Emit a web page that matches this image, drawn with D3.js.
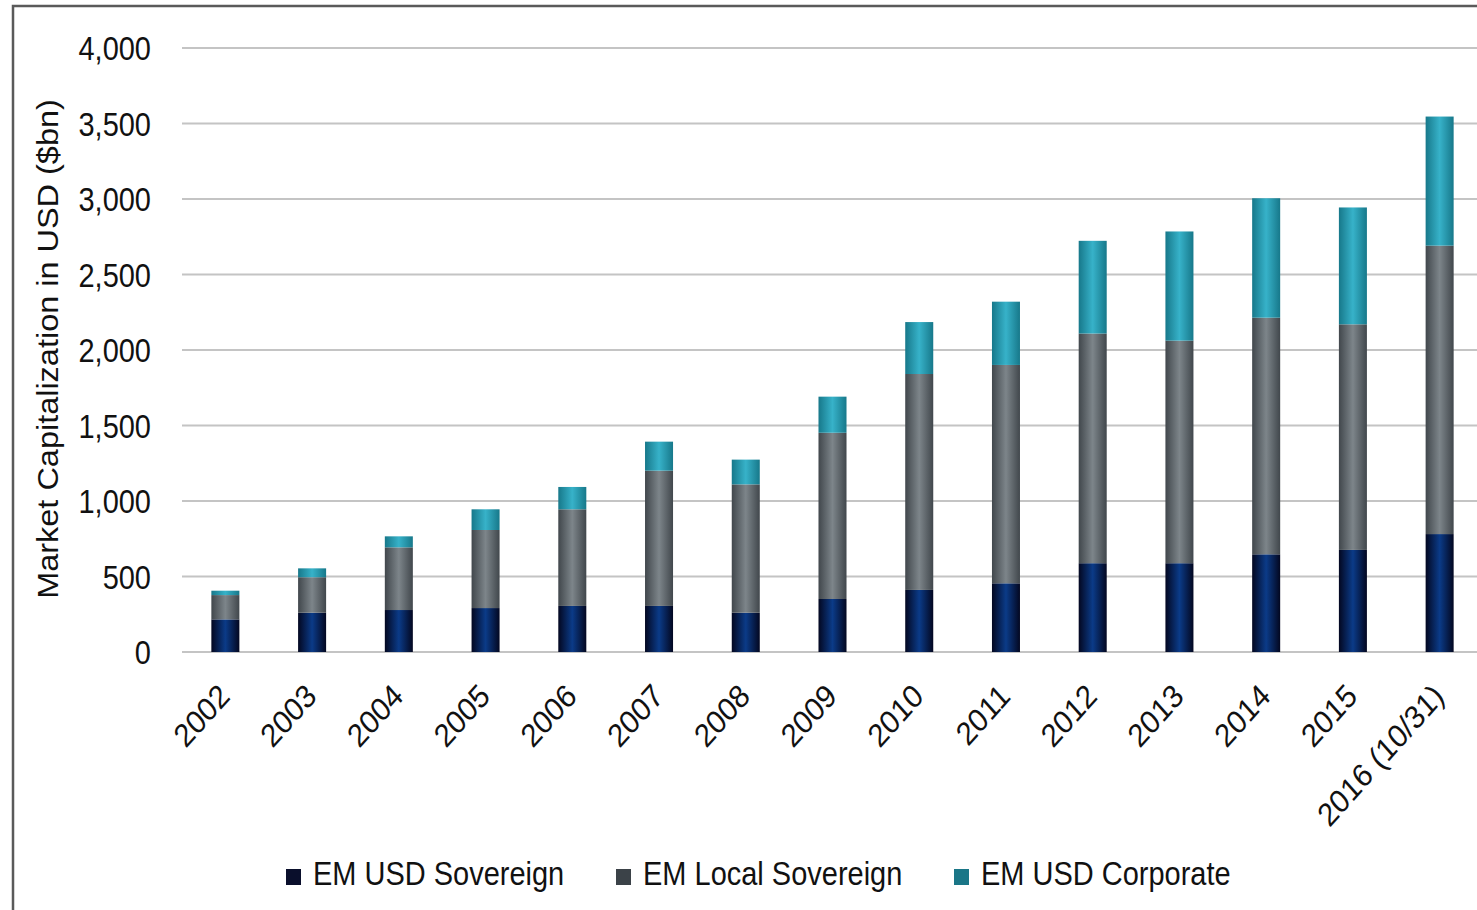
<!DOCTYPE html>
<html>
<head>
<meta charset="utf-8">
<script src="https://cdn.jsdelivr.net/npm/d3@7"></script>
<style>
  body { margin: 0; background: #fff; }
  text { font-family: "Liberation Sans", Arial, sans-serif; fill: #111; }
  .grid line { stroke: #c4c4c4; stroke-width: 2px; }
</style>
</head>
<body>
<svg id="chart" width="1477" height="910"></svg>
<script>
// values, $bn
const years = ["2002", "2003", "2004", "2005", "2006", "2007", "2008", "2009",
               "2010", "2011", "2012", "2013", "2014", "2015", "2016 (10/31)"];
const usdSovereign   = [216, 260, 278, 291, 305, 305, 260, 351, 411, 455, 588, 588, 647, 676, 781];
const localSovereign = [161, 235, 415, 517, 640, 896, 850, 1101, 1430, 1446, 1521, 1474, 1567, 1494, 1910];
const usdCorporate   = [29, 59, 73, 137, 148, 192, 164, 239, 344, 419, 614, 723, 791, 774, 855];
const seriesNames = ["EM USD Sovereign", "EM Local Sovereign", "EM USD Corporate"];
const yTicks = [0, 500, 1000, 1500, 2000, 2500, 3000, 3500, 4000];

const svg = d3.select("#chart");
const stretch = "scale(1,1.12)";

const rows = years.map((y, i) => ({
    year: y, usd: usdSovereign[i], local: localSovereign[i], corp: usdCorporate[i]
}));
const stack = d3.stack().keys(["usd", "local", "corp"])(rows);

const x = d3.scaleBand().domain(years).range([182, 1483]).paddingInner(0.677).paddingOuter(0.3385);
const y = d3.scaleLinear().domain([0, 4000]).range([652, 48]);

// cylinder-like shading, as in the picture
const shades = [
    ["#030720", "#0b3b88", "#030720"],
    ["#41474c", "#7d858a", "#41474c"],
    ["#17788a", "#37b2c9", "#17788a"]
];
const defs = svg.append("defs");
shades.forEach((s, i) => {
    let gr = defs.append("linearGradient").attr("id", "g" + i)
        .attr("x1", "0%").attr("x2", "100%").attr("y1", "0%").attr("y2", "0%");
    gr.append("stop").attr("offset", "0%").attr("stop-color", s[0]);
    gr.append("stop").attr("offset", "50%").attr("stop-color", s[1]);
    gr.append("stop").attr("offset", "100%").attr("stop-color", s[2]);
});
const legendColors = ["#0a0f2c", "#3b4248", "#1a7687"];

// frame
svg.append("path").attr("d", "M13,910V6H1477").attr("fill", "none")
    .attr("stroke", "#5a5a5a").attr("stroke-width", 2.5);

// grid
svg.append("g").attr("class", "grid").selectAll("line").data(yTicks).join("line")
    .attr("x1", 182).attr("x2", 1477)
    .attr("y1", d => y(d)).attr("y2", d => y(d));

// y axis labels
const yAxis = d3.axisLeft(y).tickValues(yTicks).tickSize(0).tickPadding(0)
    .tickFormat(d3.format(","));
const ya = svg.append("g").attr("transform", "translate(151,0)").call(yAxis);
ya.select(".domain").remove();
ya.selectAll("text").attr("font-size", 29).attr("dy", "0.36em")
    .attr("transform", stretch).attr("fill", "#111")
    .style("font-family", "'Liberation Sans', Arial, sans-serif");

svg.append("text").attr("transform", "translate(58,349) " + stretch + " rotate(-90)")
    .attr("text-anchor", "middle").attr("font-size", 29)
    .text("Market Capitalization in USD ($bn)");

// bars
svg.append("g").selectAll("g").data(stack).join("g")
    .attr("fill", (d, i) => "url(#g" + i + ")")
    .selectAll("rect").data(d => d).join("rect")
    .attr("x", d => x(d.data.year))
    .attr("width", x.bandwidth())
    .attr("y", d => y(d[1]))
    .attr("height", d => y(d[0]) - y(d[1]));

// x labels
svg.append("g").selectAll("text").data(years).join("text")
    .attr("transform", d => "translate(" + (x(d) + x.bandwidth() / 2 + 6) + ",698) " + stretch + " rotate(-45)")
    .attr("text-anchor", "end").attr("font-size", 29)
    .text(d => d);

// legend
const legendX = [286, 616, 954];
const lg = svg.append("g").selectAll("g").data(seriesNames).join("g")
    .attr("transform", (d, i) => "translate(" + legendX[i] + ",0)");
lg.append("rect").attr("x", 0).attr("y", 869).attr("width", 15).attr("height", 16)
    .attr("fill", (d, i) => legendColors[i]);
lg.append("text").attr("transform", "translate(27,885) " + stretch)
    .attr("font-size", 29).text(d => d);
</script>
</body>
</html>
